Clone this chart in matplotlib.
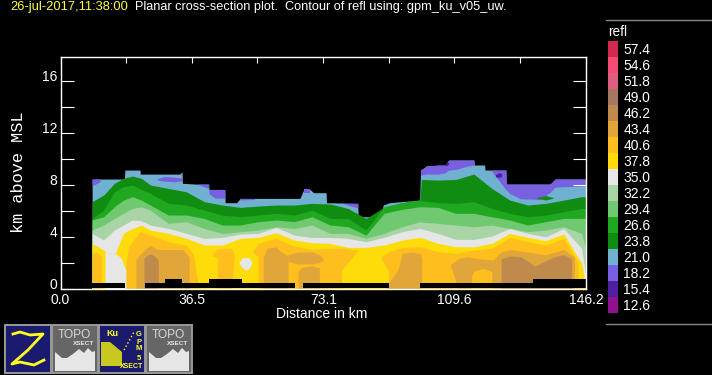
import matplotlib
matplotlib.use("Agg")
import matplotlib.pyplot as plt
from matplotlib.patches import Rectangle, Polygon
from matplotlib.transforms import ScaledTranslation

plt.rcParams['font.family'] = ['Liberation Sans', 'DejaVu Sans']
W, H = 712, 375

# ---- data (distance km / height km) ----
levels = [57.4, 54.6, 51.8, 49.0, 46.2, 43.4, 40.6, 37.8, 35.0, 32.2, 29.4, 26.6, 23.8, 21.0, 18.2, 15.4, 12.6]
colors = ['#D3294E', '#F44A74', '#DC5F7F', '#A67660', '#BF8B4C', '#E0A63A', '#FDBE1E', '#FDDC0A', '#E6E6E6',
          '#A8D4A6', '#70C870', '#20A820', '#108C10', '#70B0D0', '#7860E0', '#4E20A0', '#901090']
col = dict(zip(levels, colors))

x_ticks = [0, 18.27, 36.5, 54.8, 73.1, 91.4, 109.6, 127.9, 146.2]
x_labels = ['0.0', '', '36.5', '', '73.1', '', '109.6', '', '146.2']
y_ticks = [0, 2, 4, 6, 8, 10, 12, 14, 16]
y_labels = ['0', '', '4', '', '8', '', '12', '', '16']

stations = [8.8, 12, 15, 17.5, 20, 22.5, 25, 30, 35, 40, 45, 50, 55, 60, 65, 70, 75, 80, 85, 90, 95, 100, 100.4,
            105, 110, 115, 120, 125, 130, 135, 140, 145, 146.2]
top_238 = [6.68, 7.19, 8.09, 8.47, 8.65, 8.47, 7.96, 7.7, 7.44, 6.68, 6.42, 6.24, 6.34, 6.42, 6.42, 6.55, 6.5, 6.16, 5.39, 6.24, 6.6, 6.8,
           8.39, 8.34, 8.39, 8.8, 7.7, 6.8, 6.42, 6.55, 6.8, 7.06, 7.06]
top_266 = [5.39, 6.03, 7.44, 7.83, 7.96, 7.62, 7.32, 6.55, 6.42, 6.03, 5.65, 5.52, 5.65, 5.78, 5.65, 6.03, 5.39, 5.39, 4.5, 6.29, 6.6, 6.8,
           6.75, 6.6, 6.55, 6.68, 6.16, 5.78, 5.52, 5.65, 5.91, 6.16, 6.16]
top_294 = [5.27, 5.52, 6.29, 6.8, 7.06, 6.8, 6.42, 5.65, 5.65, 5.39, 4.88, 4.88, 5.14, 5.27, 5.14, 5.52, 4.88, 4.75, 4.11, 5.78, 6.09, 6.29,
           6.29, 6.24, 5.78, 5.78, 5.52, 5.27, 4.88, 5.14, 5.39, 5.39, 5.39]
top_322 = [4.5, 4.88, 5.39, 5.78, 6.16, 6.29, 6.03, 5.01, 5.14, 4.62, 4.24, 4.37, 4.5, 4.75, 4.62, 4.88, 4.24, 4.24, 3.86, 4.24, 4.75, 5.14,
           5.11, 5.01, 4.88, 4.75, 4.88, 4.62, 4.37, 4.5, 4.75, 4.24, 3.0]
top_350 = [4.24, 3.73, 4.5, 4.88, 5.27, 5.21, 4.88, 4.62, 4.24, 3.86, 3.93, 4.19, 4.24, 4.7, 4.11, 3.93, 3.93, 3.86, 3.6, 3.93, 4.37, 4.62,
           4.6, 4.24, 3.78, 3.78, 4.03, 4.62, 4.24, 3.98, 4.62, 3.09, 0.9]
top_378 = [3.47, 2.96, 2.57, 4.24, 4.62, 4.88, 4.5, 4.24, 3.86, 3.34, 3.34, 3.86, 3.93, 4.29, 3.73, 3.52, 3.47, 3.16, 3.16, 3.34, 3.73, 3.93,
           3.91, 3.47, 3.21, 3.21, 3.47, 4.24, 3.93, 3.68, 4.19, 1.93, 0.0]

env_x = [8.8, 17.8, 17.9, 22.1, 22.2, 33.2, 33.8, 33.9, 37.9, 41.2, 41.3, 45.7, 45.8, 49, 50, 66.6, 67.7, 69.4, 70.4, 73.9, 74,
         82.7, 82.8, 88.9, 89.8, 91.5, 99.9, 100.2, 101.9, 107, 108, 115, 115.1, 118, 118.1, 123.9, 124, 136.2, 137.6, 146.2]
env_y = [8.42, 8.42, 9.11, 9.11, 8.8, 8.8, 8.98, 8.09, 8.03, 8.03, 7.62, 7.62, 6.6, 6.6, 6.93, 6.93, 7.62, 7.62, 7.37, 7.37, 6.6,
         6.55, 5.52, 5.52, 6.42, 6.6, 6.8, 9.11, 9.44, 9.5, 9.88, 9.88, 9.5, 9.5, 9.11, 9.11, 8.03, 8.03, 8.42, 8.42]

# (x, low, high) reflectivity patches, painted in this order
patches_182 = [
    ([8.8, 11], [7.9, 8.2], [8.42, 8.42]),
    ([26.9, 29, 32, 33.8], [8.35, 8.25, 8.2, 8.3], [8.45, 8.62, 8.55, 8.5]),
    ([37.9, 41.2], [8.03, 7.7], [8.03, 8.03]),
    ([41.3, 43, 45.7], [7.3, 6.95, 6.95], [7.62, 7.62, 7.62]),
    ([50, 54], [6.8, 6.85], [6.93, 6.93]),
    ([67.7, 69.4], [7.35, 7.35], [7.62, 7.62]),
    ([78.3, 82.7], [6.55, 6.2], [6.55, 6.55]),
    ([100.2, 101.9, 105, 107, 108, 110, 113, 115], [8.73, 8.8, 8.8, 8.9, 9.1, 9.16, 9.4, 9.5],
     [9.11, 9.44, 9.5, 9.5, 9.88, 9.88, 9.88, 9.88]),
    ([119.7, 122, 123.9, 124, 125, 128, 133.5, 136.2, 137.6, 146.2], [9.1, 8.3, 7.6, 7.6, 7.3, 6.9, 6.85, 7.4, 7.8, 7.9],
     [9.11, 9.11, 9.11, 8.03, 8.03, 8.03, 8.03, 8.03, 8.42, 8.42]),
]
patches_154 = [
    ([106.9, 107.5, 108], [9.45, 9.45, 9.6], [9.5, 9.7, 9.7]),
    ([121, 121.8, 122.7], [8.6, 8.55, 8.6], [8.75, 8.9, 8.85]),
]
patches_238 = [
    ([88.9, 91, 94.5], [5.5, 5.15, 5.3], [5.5, 5.7, 5.4]),
    ([132.5, 135, 137], [6.95, 6.8, 6.95], [7.0, 7.15, 7.0]),
]
patches_406 = [
    ([8.8, 10, 11.3], [0, 0, 0], [2.7, 2.8, 2.5]),
    ([17.5, 18.9, 22.1, 25, 30, 35, 37, 38.4], [0, 0, 0, 0, 0, 0, 0, 0], [0.5, 3.2, 4.37, 4.11, 3.6, 3.34, 2.6, 0.1]),
    ([42.3, 43.6, 43.7, 47.7, 48.3], [2.5, 2.4, 0, 0, 2.4], [2.7, 3.05, 3.05, 3.1, 2.6]),
    ([53.6, 54.9, 55, 60, 65, 70, 75, 78.1, 78.2, 80, 82.8], [2.7, 2.5, 0, 0, 0, 0, 0, 0, 1.4, 2.0, 2.96],
     [2.96, 3.4, 3.47, 3.86, 3.26, 3.0, 3.09, 3.1, 3.1, 3.05, 2.96]),
    ([89.1, 91.1, 91.4, 95, 100, 105, 110, 115, 120, 125, 130, 135, 140, 144], [2.4, 1.4, 0, 0, 0, 0, 0, 0, 0, 0, 0, 0, 0, 0],
     [2.44, 2.75, 2.85, 3.16, 3.21, 2.83, 2.7, 2.96, 3.09, 3.93, 3.6, 3.34, 3.86, 2.0]),
]
patches_434 = [
    ([21, 21.7, 23.5, 25, 27, 34, 35.8], [0, 0, 0, 0, 0, 0, 0], [2.2, 2.5, 3.0, 3.3, 3.0, 3.0, 2.4]),
    ([56.4, 57.5, 60, 61, 63.3], [0, 0, 0, 0, 0], [2.4, 3.1, 3.2, 2.9, 2.5]),
    ([63.3, 66, 70, 72, 73], [2.1, 1.9, 1.9, 2.0, 2.2], [2.6, 2.8, 2.8, 2.6, 2.3]),
    ([66.1, 67, 70, 72], [0, 0, 0, 0], [1.3, 1.6, 1.75, 1.6]),
    ([90.8, 91.5, 94, 95, 97.5, 100, 100.5], [0, 0, 0, 0, 0, 0, 0], [0.3, 0.5, 1.5, 2.7, 2.8, 2.7, 2.3]),
    ([108.4, 110.7, 113, 116, 120.4, 122.5, 125, 130, 135, 140, 143], [1.8, 0, 0, 0, 0, 0, 0, 0, 0, 0, 0],
     [1.8, 2.3, 2.45, 2.3, 2.2, 2.8, 3.0, 2.8, 2.6, 3.0, 2.4]),
]
patches_406b = [
    ([114.4, 115, 117.6, 120], [0, 0, 0, 0], [1.0, 1.35, 1.55, 1.3]),
]
patches_462 = [
    ([23.2, 24, 25, 26, 27.2], [0, 0, 0, 0, 0], [2.3, 2.55, 2.65, 2.55, 2.2]),
    ([122.6, 125, 128, 130.5, 132, 134, 137, 140, 142.2], [0, 0, 0, 0, 0, 0, 0, 0, 0],
     [2.3, 2.5, 2.45, 2.0, 1.7, 2.0, 2.4, 2.6, 2.3]),
]
patches_350 = [
    ([12.4, 13.8, 15.6, 17, 18.2], [0, 0, 0, 0, 0], [3.0, 2.7, 2.65, 2.3, 1.4]),
    ([49.7, 50.5, 51.5, 52.5, 53.2], [1.9, 1.65, 1.4, 1.55, 1.95], [2.05, 2.35, 2.4, 2.35, 2.05]),
]

terrain_x = [8.8, 17.9, 23.5, 29, 33.7, 41.3, 50.4, 65.2, 67.5, 91.4, 99.9, 131.5, 146.2]
terrain_y = [0.44, 0.06, 0.44, 0.73, 0.44, 0.73, 0.44, 0.06, 0.44, 0.06, 0.44, 0.73, 0.73]

# ---- figure ----
fig = plt.figure(figsize=(W / 100, H / 100), dpi=100, facecolor='black')
L, R, T, B = 60.5, 586.0, 56.5, 288.5
ax = fig.add_axes([L / W, 1 - B / H, (R - L) / W, (B - T) / H], facecolor='black')
ax.set_xlim(0, 146.2)
ax.set_ylim(0, (B - T) / 13.0)


def band(xs, hi, c, z):
    ax.fill_between(xs, 0, hi, color=c, lw=0, zorder=z)


def blobs(items, c, z):
    for xs, lo, hi in items:
        ax.fill_between(xs, lo, hi, color=c, lw=0, zorder=z)


band(env_x, env_y, col[21.0], 1)
blobs(patches_182, col[18.2], 1.5)
blobs(patches_154, col[15.4], 1.6)
band(stations, top_238, col[23.8], 2)
band(stations, top_266, col[26.6], 3)
blobs(patches_238, col[23.8], 3.5)
band(stations, top_294, col[29.4], 4)
band(stations, top_322, col[32.2], 5)
band(stations, top_350, col[35.0], 6)
band(stations, top_378, col[37.8], 7)
blobs(patches_406, col[40.6], 8)
blobs(patches_434, col[43.4], 9)
blobs(patches_406b, col[40.6], 9.5)
blobs(patches_462, col[46.2], 10)
blobs(patches_350, col[35.0], 11)
ax.fill_between(terrain_x, 0, terrain_y, step='post', color='black', lw=0, zorder=12)

for s in ax.spines.values():
    s.set_color('white')
    s.set_linewidth(1.0)
    s.set_zorder(20)
ax.set_xticks(x_ticks, x_labels)
ax.set_yticks(y_ticks, y_labels)
ax.tick_params(axis='x', direction='in', length=4.5, width=0.8, color='white', labelcolor='white',
               labelsize=10, top=True, bottom=True, pad=3, zorder=20)
ax.tick_params(axis='y', direction='in', length=9.5, width=0.8, color='white', labelcolor='white',
               labelsize=10, left=True, right=True, pad=2.5, zorder=20)
for t in ax.get_xticklines() + ax.get_yticklines():
    t.set_zorder(20)
shift = ScaledTranslation(0, 5 / 100, fig.dpi_scale_trans)
for lab in ax.get_yticklabels():
    lab.set_transform(lab.get_transform() + shift)

# overlay in pixel coordinates for page furniture
ov = fig.add_axes([0, 0, 1, 1], facecolor='none')
ov.set_xlim(0, W)
ov.set_ylim(H, 0)
ov.axis('off')

ov.text(10, 7, '26-jul-2017,11:38:00', color='#FFFF40', fontsize=9.3, va='center', ha='left')
ov.text(135, 7, 'Planar cross-section plot.  Contour of refl using: gpm_ku_v05_uw.', color='white',
        fontsize=9.15, va='center', ha='left')
ov.text(19, 172, 'km above MSL', color='white', fontsize=12.2, rotation=90, va='center', ha='center',
        family='Liberation Mono')
ov.text(322, 314, 'Distance in km', color='white', fontsize=10, va='center', ha='center')

# legend
ov.plot([606, 712], [19.5, 19.5], color='#888888', lw=1)
ov.plot([606, 712], [324, 324], color='#888888', lw=1)
ov.text(608, 32, 'refl', color='white', fontsize=9.8, va='center', ha='left')
for i, (lv, c) in enumerate(zip(levels, colors)):
    y = 41 + i * 16
    ov.add_patch(Rectangle((608, y), 10, 16, color=c, lw=0))
    ov.text(623.5, y + 8.5, f'{lv:.1f}', color='white', fontsize=10, va='center', ha='left')


# icons
def frame(x0, fill):
    ov.add_patch(Rectangle((x0, 325), 45.5, 47.5, facecolor=fill, edgecolor='#999999', lw=1.4))


def topo(x0):
    frame(x0, '#666666')
    ov.text(x0 + 22, 335, 'TOPO', color='#D8D8D8', fontsize=8.6, ha='center', va='center')
    ov.text(x0 + 32, 343.5, 'XSECT', color='#E6E6E6', fontsize=4.6, ha='center', va='center', weight='bold')
    ov.add_patch(Polygon([(x0 + 3, 371), (x0 + 3, 352), (x0 + 10, 358), (x0 + 15, 358), (x0 + 21, 354), (x0 + 27, 349),
                          (x0 + 32, 353), (x0 + 36, 348), (x0 + 40, 352), (x0 + 43, 351), (x0 + 43, 371)],
                         facecolor='#E6E6E6', lw=0))


frame(5, '#1A1A6E')
ov.plot([13, 20, 30, 43, 28, 12, 20, 34, 44], [334, 332, 335, 334, 350, 364, 362, 365, 360], color='#FFFF20', lw=2)
topo(52)
frame(99, '#1A1A6E')
ov.text(112, 334, 'Ku', color='#FFFF20', fontsize=6.5, ha='center', va='center', weight='bold')
ov.add_patch(Polygon([(101, 342), (110, 342), (122, 352), (122, 366), (101, 366)], facecolor='#C8C820', lw=0))
ov.plot([124, 134], [350, 332], color='#FFFF20', lw=1, ls=':')
ov.text(139, 342, 'G\nP\nM', color='#FFFF20', fontsize=5.5, ha='center', va='center', weight='bold', linespacing=1)
ov.text(139, 358, '5', color='#FFFF20', fontsize=5.5, ha='center', va='center', weight='bold')
ov.text(132, 367, 'XSECT', color='#FFFF20', fontsize=5, ha='center', va='center', weight='bold')
topo(146)

fig.savefig('out.png', dpi=100, facecolor='black')
